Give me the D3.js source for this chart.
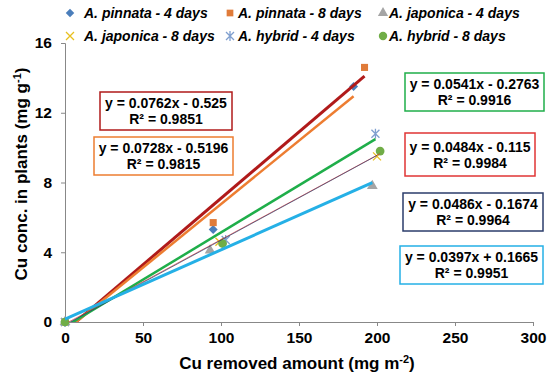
<!DOCTYPE html>
<html>
<head>
<meta charset="utf-8">
<script src="https://cdn.jsdelivr.net/npm/d3@7"></script>
<style>
  body { margin: 0; background: #fff; }
  text { font-family: Arial, "Liberation Sans", sans-serif; }
</style>
</head>
<body>
<div id="chart"></div>
<script>
// series names
const seriesNames = ["A. pinnata - 4 days", "A. pinnata - 8 days", "A. japonica - 4 days",
  "A. japonica - 8 days", "A. hybrid - 4 days", "A. hybrid - 8 days"];
// x values (Cu removed amount) per series
const xValues = [
  [0, 95, 185],
  [0, 95, 192],
  [0, 93, 197],
  [0, 99, 200],
  [0, 103, 199],
  [0, 101, 202]
];
// y values (Cu conc. in plants) per series
const yValues = [
  [0, 5.3, 13.5],
  [0, 5.7, 14.6],
  [0, 4.1, 7.8],
  [0, 4.6, 9.5],
  [0, 4.7, 10.8],
  [0, 4.5, 9.8]
];
// trendlines: slope, intercept, x max, label
const trendSlope = [0.0762, 0.0728, 0.0541, 0.0484, 0.0486, 0.0397];
const trendIntercept = [-0.525, -0.5196, -0.2763, -0.115, -0.1674, 0.1665];
const trendXmax = [192, 185, 199, 202, 200, 197];
const trendEq = ["y = 0.0762x - 0.525", "y = 0.0728x - 0.5196", "y = 0.0541x - 0.2763",
  "y = 0.0484x - 0.115", "y = 0.0486x - 0.1674", "y = 0.0397x + 0.1665"];
const trendR2 = ["R² = 0.9851", "R² = 0.9815", "R² = 0.9916", "R² = 0.9984", "R² = 0.9964", "R² = 0.9951"];
const xTicks = [0, 50, 100, 150, 200, 250, 300];
const yTicks = [0, 4, 8, 12, 16];

const width = 550, height = 382;
const margin = { left: 65, right: 17, top: 43, bottom: 60 };

const markerColors = ["#4a7ebb", "#e07b39", "#a5a5a5", "#e8c020", "#7f9fcf", "#70ad47"];
const markerShapes = ["diamond", d3.symbolSquare, d3.symbolTriangle, "x", "star", d3.symbolCircle];
const lineColors = ["#b01a1a", "#ed7d31", "#1fae4a", "#e03535", "#2b3d6b", "#25b0e6"];
const lineWidths = [3, 2.5, 2.5, 1, 1, 3];
// equation box positions [x, y, w, h]
const boxes = [[100, 92, 132, 38], [94, 137, 139, 38], [405, 73, 139, 38],
  [405, 133, 130, 43], [403, 193, 140, 38], [400, 246, 143, 38]];

let svg = d3.select("#chart").append("svg")
  .attr("width", width).attr("height", height);

let x = d3.scaleLinear().domain([0, 300]).range([margin.left, width - margin.right]);
let y = d3.scaleLinear().domain([0, 16]).range([height - margin.bottom, margin.top]);

svg.append("clipPath").attr("id", "plot-clip").append("rect")
  .attr("x", x(0)).attr("y", y(16)).attr("width", x(300) - x(0)).attr("height", y(0) - y(16));

// axes
let xAxis = svg.append("g")
  .attr("transform", "translate(0," + y(0) + ")")
  .call(d3.axisBottom(x).tickValues(xTicks).tickSize(4).tickPadding(6));
let yAxis = svg.append("g")
  .attr("transform", "translate(" + x(0) + ",0)")
  .call(d3.axisLeft(y).tickValues(yTicks).tickSize(4).tickPadding(9));
[xAxis, yAxis].forEach(a => {
  a.selectAll("path, line").attr("stroke", "#888");
  a.selectAll("text").attr("font-size", 15.5).attr("font-weight", "bold").attr("fill", "#000");
});

// axis titles
svg.append("text").attr("x", 297).attr("y", 369).attr("text-anchor", "middle")
  .attr("font-size", 17).attr("font-weight", "bold")
  .html('Cu removed amount (mg m<tspan dy="-6" font-size="11">-2</tspan><tspan dy="6">)</tspan>');
svg.append("text").attr("transform", "translate(27,174) rotate(-90)").attr("text-anchor", "middle")
  .attr("font-size", 17).attr("font-weight", "bold")
  .html('Cu conc. in plants (mg g<tspan dy="-6" font-size="11">-1</tspan><tspan dy="6">)</tspan>');

// markers
function drawMarker(g, shape, color, cx, cy, size) {
  if (shape === "x") {
    g.append("path").attr("d", `M${cx - 4},${cy - 4}L${cx + 4},${cy + 4}M${cx - 4},${cy + 4}L${cx + 4},${cy - 4}`)
      .attr("stroke", color).attr("stroke-width", 1.3).attr("fill", "none");
  } else if (shape === "star") {
    g.append("path").attr("d", `M${cx - 4},${cy - 4}L${cx + 4},${cy + 4}M${cx - 4},${cy + 4}L${cx + 4},${cy - 4}M${cx},${cy - 5}L${cx},${cy + 5}`)
      .attr("stroke", color).attr("stroke-width", 1.3).attr("fill", "none");
  } else if (shape === "diamond") {
    g.append("path").attr("d", d3.symbol().type(d3.symbolSquare).size(size * 0.8)())
      .attr("transform", `translate(${cx},${cy}) rotate(45)`).attr("fill", color);
  } else {
    g.append("path").attr("d", d3.symbol().type(shape).size(size)())
      .attr("transform", `translate(${cx},${cy})`).attr("fill", color);
  }
}

let pts = svg.append("g");
seriesNames.forEach((name, i) => {
  xValues[i].forEach((xv, j) => {
    drawMarker(pts, markerShapes[i], markerColors[i], x(xv), y(yValues[i][j]), i === 5 ? 60 : 50);
  });
});

// trendlines
let lines = svg.append("g").attr("clip-path", "url(#plot-clip)");
trendSlope.forEach((m, i) => {
  lines.append("line")
    .attr("x1", x(0)).attr("y1", y(trendIntercept[i]))
    .attr("x2", x(trendXmax[i])).attr("y2", y(m * trendXmax[i] + trendIntercept[i]))
    .attr("stroke", lineColors[i]).attr("stroke-width", lineWidths[i])
    .attr("stroke-opacity", lineWidths[i] < 2 ? 0.7 : 1);
});

// equation boxes
boxes.forEach((b, i) => {
  let g = svg.append("g");
  g.append("rect").attr("x", b[0]).attr("y", b[1]).attr("width", b[2]).attr("height", b[3])
    .attr("fill", "#fff").attr("stroke", lineColors[i]).attr("stroke-width", 1.5);
  g.append("text").attr("x", b[0] + b[2] / 2).attr("y", b[1] + b[3] / 2 - 3)
    .attr("text-anchor", "middle").attr("font-size", 14).attr("font-weight", "bold").text(trendEq[i]);
  g.append("text").attr("x", b[0] + b[2] / 2).attr("y", b[1] + b[3] / 2 + 13)
    .attr("text-anchor", "middle").attr("font-size", 14).attr("font-weight", "bold").text(trendR2[i]);
});

// legend
const legendMarkX = [70, 230, 383];
const legendTextX = [84, 238, 389];
const legendY = [13, 36];
let legend = svg.append("g");
seriesNames.forEach((name, i) => {
  let col = i % 3, ly = legendY[Math.floor(i / 3)];
  drawMarker(legend, markerShapes[i], markerColors[i], legendMarkX[col], ly, i === 5 ? 55 : 45);
  legend.append("text").attr("x", legendTextX[col]).attr("y", ly + 5)
    .attr("font-size", 14).attr("font-weight", "bold").attr("font-style", "italic")
    .text(name);
});
</script>
</body>
</html>
